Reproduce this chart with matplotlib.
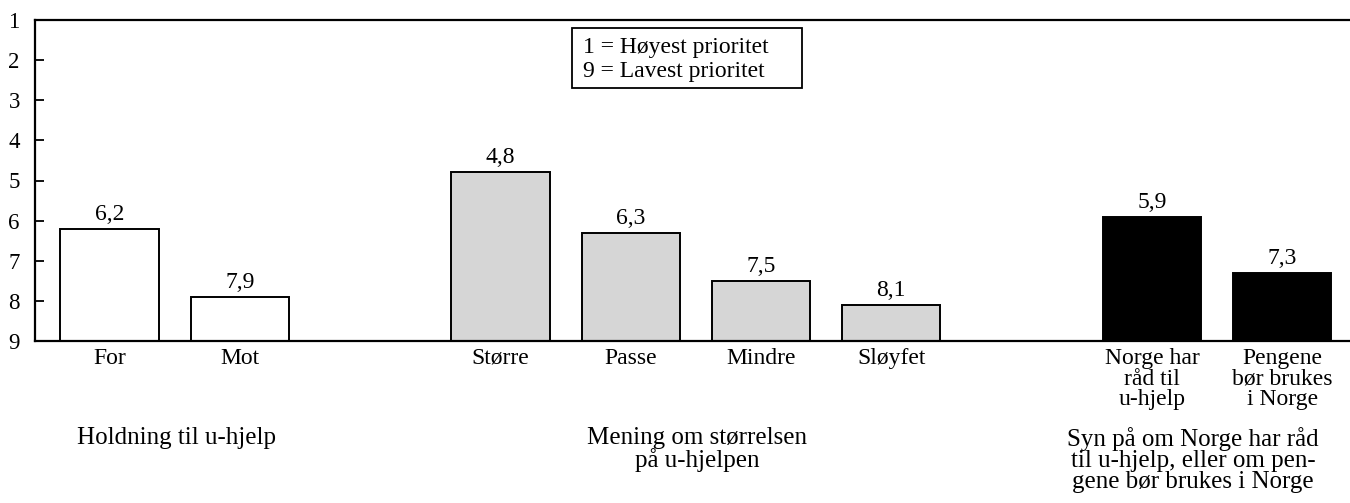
import matplotlib
matplotlib.use("Agg")
import matplotlib.pyplot as plt
from matplotlib.patches import Rectangle
from matplotlib.transforms import blended_transform_factory

plt.rcParams['font.family'] = ['Liberation Serif', 'DejaVu Serif']

# Data
categories = ["For", "Mot", "Større", "Passe", "Mindre", "Sløyfet",
              "Norge har\nråd til\nu-hjelp", "Pengene\nbør brukes\ni Norge"]
values = [6.2, 7.9, 4.8, 6.3, 7.5, 8.1, 5.9, 7.3]
value_labels = ["6,2", "7,9", "4,8", "6,3", "7,5", "8,1", "5,9", "7,3"]
groups = ["Holdning til u-hjelp",
          "Mening om størrelsen\npå u-hjelpen",
          "Syn på om Norge har råd\ntil u-hjelp, eller om pen-\ngene bør brukes i Norge"]
group_sizes = [2, 4, 2]
yticks = [1, 2, 3, 4, 5, 6, 7, 8, 9]
legend_lines = ["1 = Høyest prioritet", "9 = Lavest prioritet"]

# Layout
W, H = 1350, 503
fig = plt.figure(figsize=(W / 100, H / 100), dpi=100)
ax_left, ax_right = 35, 1350
ax_top, ax_bot = 20, 341
ax = fig.add_axes([ax_left / W, 1 - ax_bot / H, (ax_right - ax_left) / W, (ax_bot - ax_top) / H])

slot = 130.3
first = 74.5
positions = []
fills = []
group_fill = ["white", "#d6d6d6", "black"]
pos = 0
for gi, n in enumerate(group_sizes):
    for k in range(n):
        positions.append(pos)
        fills.append(group_fill[gi])
        pos += 1
    pos += 1

ax.bar(positions, [v - 9 for v in values], bottom=9, width=0.755,
       color=fills, edgecolor="black", linewidth=1.4, zorder=2)

for x, v, lab in zip(positions, values, value_labels):
    ax.annotate(lab, (x, v), xytext=(0, 6.5), textcoords="offset points",
                ha="center", va="baseline", fontsize=17)

ax.set_ylim(9, 1)
ax.set_xlim(-first / slot, (ax_right - ax_left - first) / slot)
ax.set_yticks(yticks)
ax.set_yticklabels([str(t) for t in yticks], fontsize=16.5)
ax.tick_params(axis="y", direction="in", length=6.7, width=1.3, pad=15)
for lab in ax.get_yticklabels():
    lab.set_horizontalalignment("center")

ax.set_xticks(positions)
ax.set_xticklabels(categories, fontsize=17, linespacing=0.98)
ax.tick_params(axis="x", length=0, pad=5)

for s in ["left", "top", "bottom"]:
    ax.spines[s].set_linewidth(1.6)
ax.spines["right"].set_visible(False)

# Group labels
trans = blended_transform_factory(ax.transData, fig.transFigure)
group_centers_px = [176.5, 697, 1193]
for g, cpx in zip(groups, group_centers_px):
    xd = (cpx - ax_left - first) / slot
    fig.text(xd, 1 - 427 / H, g, transform=trans, ha="center", va="top",
             fontsize=18, linespacing=0.95)

# Legend box
def px2x(p):
    return (p - ax_left - first) / slot

def py2y(p):
    return 1 + (p - ax_top) / ((ax_bot - ax_top) / 8)

ax.add_patch(Rectangle((px2x(572), py2y(28)), px2x(802) - px2x(572), py2y(88) - py2y(28),
                       facecolor="white", edgecolor="black", linewidth=1.3, zorder=3))
ax.text(px2x(583), py2y(53), legend_lines[0], fontsize=17, ha="left", va="baseline", zorder=4)
ax.text(px2x(583), py2y(77), legend_lines[1], fontsize=17, ha="left", va="baseline", zorder=4)

fig.savefig("out.png", dpi=100)
